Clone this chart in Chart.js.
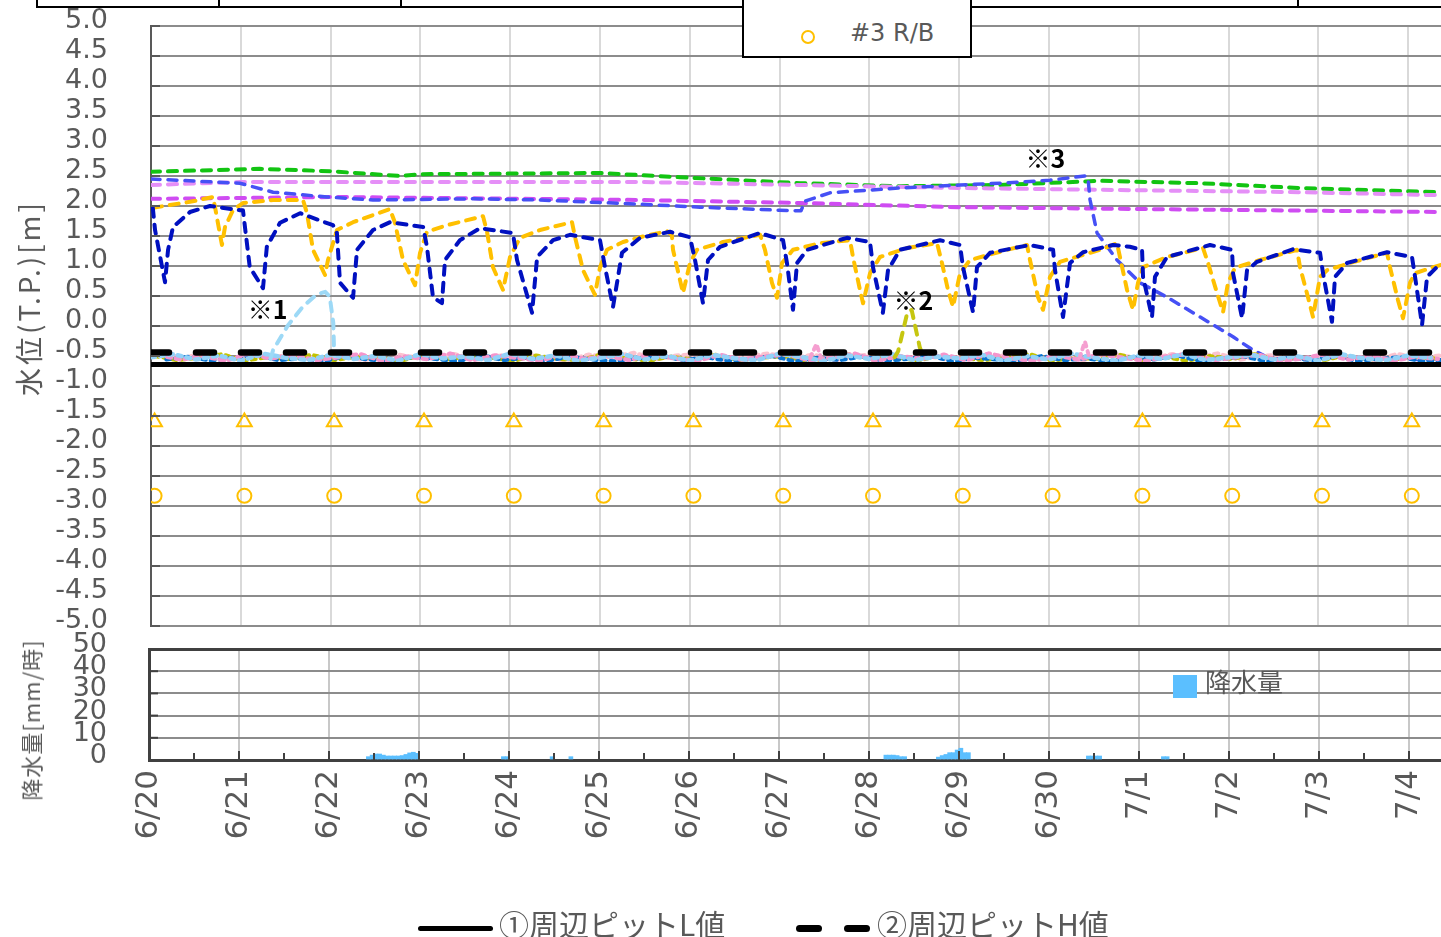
<!DOCTYPE html>
<html lang="ja">
<head>
<meta charset="utf-8">
<title>水位・降水量</title>
<script src="https://cdn.jsdelivr.net/npm/chart.js@4.4.1/dist/chart.umd.min.js"></script>
<style>
  html, body { margin: 0; padding: 0; background: #ffffff; }
  body { position: relative; width: 1441px; height: 937px; overflow: hidden; }
  canvas { position: absolute; left: 0; }
  #levelCanvas { top: -40px; }
  #rainCanvas { top: 589px; }
  .rule { position: absolute; background: #000; }
  .txt { position: absolute; white-space: nowrap; color: #595959; }
  .jp { font-family: "Noto Sans CJK JP", sans-serif; }
  .vert { transform: translate(-50%, -50%) rotate(-90deg); }
</style>
</head>
<body>
  <canvas id="levelCanvas" width="1580" height="726"></canvas>
  <canvas id="rainCanvas" width="1580" height="348"></canvas>

  <!-- header table edge and legend box -->
  <div class="rule" style="left:37px; top:6px; width:1404px; height:2px;"></div>
  <div class="rule" style="left:36px; top:0; width:2px; height:8px;"></div>
  <div class="rule" style="left:218px; top:0; width:2px; height:8px;"></div>
  <div class="rule" style="left:400px; top:0; width:2px; height:8px;"></div>
  <div class="rule" style="left:1297px; top:0; width:2px; height:8px;"></div>
  <div style="position:absolute; left:742px; top:-3px; width:226px; height:57px; border:2px solid #000; background:#fff;"></div>
  <div style="position:absolute; left:801px; top:30px; width:10px; height:10px; border:2px solid #ffc000; border-radius:50%;"></div>
  <div class="txt" style="left:850px; top:18px; font:24px 'DejaVu Sans'; line-height:30px;">#3 R/B</div>

  <!-- axis titles -->
  <div class="txt jp vert" style="left:28px; top:298px; font-size:28px; letter-spacing:3px;">水位(T.P.)[m]</div>
  <div class="txt jp vert" style="left:30px; top:720px; font-size:22px; letter-spacing:1px;">降水量[mm/時]</div>

  <!-- rainfall legend -->
  <div style="position:absolute; left:1173px; top:675px; width:24px; height:23px; background:#5bbfff;"></div>
  <div class="txt jp" style="left:1205px; top:668px; font-size:26px; line-height:26px;">降水量</div>

  <!-- pit level legend -->
  <div style="position:absolute; left:418px; top:926px; width:75px; height:5px; background:#000; border-radius:3px;"></div>
  <div class="txt jp" style="left:499px; top:908px; font-size:30px; line-height:30px;">①周辺ピットL値</div>
  <div style="position:absolute; left:796px; top:925px; width:26px; height:7px; background:#000; border-radius:4px;"></div>
  <div style="position:absolute; left:844px; top:925px; width:26px; height:7px; background:#000; border-radius:4px;"></div>
  <div class="txt jp" style="left:877px; top:908px; font-size:30px; line-height:30px;">②周辺ピットH値</div>

<script>
// Time axis: days elapsed since 6/20 00:00
const dateLabels = ['6/20','6/21','6/22','6/23','6/24','6/25','6/26','6/27','6/28','6/29','6/30','7/1','7/2','7/3','7/4'];

// Pit reference levels [m]
const pitLowLevel = -0.64;   // ① L
const pitHighLevel = -0.44;  // ② H
const levelDays = [0, 14.4];

// Daily markers
const markerDays = [0.04,1.04,2.04,3.04,4.04,5.04,6.04,7.04,8.04,9.04,10.04,11.04,12.04,13.04,14.04];
const triangleLevels = [-1.6,-1.6,-1.6,-1.6,-1.6,-1.6,-1.6,-1.6,-1.6,-1.6,-1.6,-1.6,-1.6,-1.6,-1.6];
const circleLevels = [-2.83,-2.83,-2.83,-2.83,-2.83,-2.83,-2.83,-2.83,-2.83,-2.83,-2.83,-2.83,-2.83,-2.83,-2.83];

// Pump well A (navy)
const wellADays = [0.02,0.045,0.156,0.19,0.245,0.434,0.657,0.991,1.024,1.10,
  1.247,1.29,1.437,1.66,2.027,2.07,2.105,2.25,2.294,2.472,
  2.66,3.03,3.073,3.14,3.24,3.274,3.44,3.664,4.03,4.076,
  4.243,4.30,4.477,4.666,5.0,5.056,5.145,5.245,5.445,5.78,
  6.002,6.058,6.147,6.203,6.336,6.782,7.038,7.082,7.149,7.194,
  7.305,7.75,8.007,8.04,8.15,8.207,8.34,8.786,9.009,9.042,
  9.154,9.198,9.343,9.788,10.045,10.067,10.156,10.234,10.379,10.713,
  10.9,11.036,11.047,11.147,11.18,11.314,11.793,12.038,12.049,12.15,
  12.205,12.316,12.717,13.018,13.051,13.151,13.185,13.318,13.764,14.042,
  14.076,14.154,14.21,14.365];
const wellAVals = [1.97,1.60,0.73,1.27,1.65,1.90,2.00,1.93,1.93,0.98,
  0.63,1.32,1.72,1.88,1.68,1.55,0.72,0.47,1.27,1.60,
  1.73,1.65,1.32,0.48,0.38,1.10,1.43,1.63,1.55,1.10,
  0.22,1.15,1.43,1.52,1.43,0.98,0.32,1.22,1.47,1.57,
  1.48,1.10,0.38,1.10,1.32,1.55,1.43,1.05,0.27,1.05,
  1.27,1.47,1.40,0.98,0.22,0.93,1.27,1.43,1.35,0.98,
  0.23,0.98,1.22,1.35,1.27,0.93,0.15,1.05,1.23,1.35,
  1.32,1.27,0.82,0.15,0.82,1.15,1.35,1.27,0.88,0.13,
  0.93,1.07,1.28,1.22,0.88,0.07,0.82,1.05,1.23,1.15,
  0.82,0.02,0.82,1.05];

// Pump well B (amber)
const wellBDays = [0.022,0.434,0.69,0.713,0.79,0.824,0.913,1.024,1.359,1.693,
  1.737,1.804,1.938,1.971,2.071,2.25,2.66,2.717,2.806,2.94,
  2.996,3.073,3.296,3.697,3.742,3.808,3.92,3.998,4.109,4.332,
  4.688,4.722,4.811,4.944,5.0,5.078,5.256,5.445,5.746,5.80,
  5.813,5.924,6.002,6.08,6.37,6.782,6.837,6.915,6.971,7.027,
  7.149,7.45,7.784,7.817,7.895,7.929,8.007,8.118,8.419,8.753,
  8.808,8.875,8.931,9.009,9.12,9.532,9.755,9.788,9.878,9.933,
  10.011,10.122,10.568,10.757,10.79,10.869,10.935,10.991,11.047,11.314,
  11.715,11.771,11.871,11.938,11.993,12.071,12.35,12.762,12.795,12.884,
  12.94,13.018,13.096,13.352,13.764,13.797,13.886,13.942,14.02,14.076,
  14.365];
const wellBVals = [1.97,2.07,2.15,1.98,1.35,1.65,1.93,2.05,2.10,2.10,
  1.88,1.27,0.85,1.10,1.60,1.73,1.95,1.72,1.10,0.68,
  1.22,1.57,1.68,1.83,1.57,0.98,0.60,1.15,1.47,1.60,
  1.73,1.48,0.93,0.52,0.98,1.27,1.40,1.48,1.58,1.52,
  1.27,0.55,1.05,1.27,1.40,1.52,1.27,0.72,0.47,1.05,
  1.27,1.38,1.43,1.15,0.60,0.38,0.88,1.15,1.30,1.38,
  1.05,0.60,0.32,0.88,1.10,1.27,1.35,1.10,0.48,0.27,
  0.82,1.07,1.27,1.38,1.15,0.60,0.27,0.72,0.98,1.15,
  1.30,1.05,0.55,0.23,0.72,0.97,1.10,1.27,0.98,0.48,
  0.15,0.82,0.93,1.05,1.22,0.98,0.43,0.13,0.72,0.88,
  1.02];

// Observation well (blue, note 3)
const wellCDays = [0,0.99,1.36,1.96,2.47,3.6,4.33,5.445,6.114,7.0,
  7.238,7.283,7.56,8.34,9.009,9.454,10.011,10.401,10.434,10.457,
  10.535,10.757,11.013,11.314,11.682,12.049,12.27,12.405,12.6,12.9,
  13.2,13.5,13.8,14.1,14.365];
const wellCVals = [2.45,2.38,2.23,2.15,2.10,2.12,2.10,2.03,1.98,1.93,
  1.92,2.08,2.22,2.30,2.35,2.38,2.43,2.50,2.47,2.10,
  1.55,1.10,0.72,0.48,0.15,-0.18,-0.40,-0.50,-0.53,-0.56,
  -0.52,-0.55,-0.53,-0.56,-0.54];

// Upper observation wells
const greenDays = [0,1.21,1.99,2.77,3.0,5.0,5.89,7.23,8.34,9.45,10.57,11.68,12.8,14.365];
const greenVals = [2.57,2.62,2.58,2.50,2.53,2.55,2.48,2.38,2.33,2.35,2.42,2.38,2.30,2.23];
const violetDays = [0,0.99,5.445,7.23,9.0,10.57,12.8,14.365];
const violetVals = [2.35,2.40,2.40,2.35,2.30,2.27,2.23,2.18];
const magentaDays = [0,2.1,5.445,7.23,9.0,11.0,14.365];
const magentaVals = [2.12,2.15,2.10,2.05,1.98,1.95,1.90];

// Pit bottom wells, 6-hourly readings
const lightBlueLow = [-0.52,-0.47,-0.56,-0.49,-0.58,-0.46,-0.53,-0.57,-0.48,-0.55,
  -0.50,-0.58,-0.47,-0.54,-0.51,-0.57,-0.46,-0.55,-0.49,-0.58,
  -0.53,-0.47,-0.56,-0.50,-0.58,-0.48,-0.54,-0.57,-0.46,-0.52,
  -0.58,-0.49,-0.55,-0.47,-0.57,-0.51,-0.54,-0.48,-0.58,-0.50,
  -0.56,-0.46,-0.53,-0.58,-0.49,-0.55,-0.47,-0.57,-0.52,-0.48,
  -0.56,-0.50,-0.58,-0.47,-0.54,-0.57,-0.49,-0.53];
const pinkLow = [-0.48,-0.56,-0.50,-0.58,-0.46,-0.54,-0.49,-0.57,-0.52,-0.47,
  -0.58,-0.51,-0.55,-0.46,-0.57,-0.49,-0.53,-0.58,-0.47,-0.55,
  -0.50,-0.57,-0.46,-0.54,-0.58,-0.48,-0.56,-0.51,-0.47,-0.57,
  -0.53,-0.46,-0.58,-0.50,-0.55,-0.48,-0.57,-0.46,-0.54,-0.58,
  -0.49,-0.56,-0.47,-0.53,-0.58,-0.50,-0.46,-0.57,-0.52,-0.48,
  -0.58,-0.54,-0.47,-0.56,-0.49,-0.58,-0.51,-0.55];
const deepBlueLow = [-0.56,-0.51,-0.58,-0.53,-0.49,-0.57,-0.54,-0.59,-0.50,-0.56,
  -0.58,-0.52,-0.55,-0.59,-0.48,-0.57,-0.53,-0.58,-0.51,-0.56,
  -0.59,-0.54,-0.49,-0.57,-0.52,-0.58,-0.55,-0.50,-0.59,-0.53,
  -0.57,-0.51,-0.58,-0.55,-0.49,-0.59,-0.53,-0.56,-0.58,-0.50,
  -0.57,-0.54,-0.59,-0.52,-0.56,-0.49,-0.58,-0.55,-0.51,-0.59,
  -0.53,-0.57,-0.50,-0.58,-0.55,-0.52,-0.59,-0.56];
const oliveLow = [-0.50,-0.57,-0.53,-0.47,-0.58,-0.52,-0.55,-0.48,-0.57,-0.51,
  -0.54,-0.58,-0.47,-0.56,-0.50,-0.53,-0.58,-0.49,-0.55,-0.57,
  -0.46,-0.54,-0.58,-0.51,-0.56,-0.48,-0.57,-0.53,-0.50,-0.58,
  -0.55,-0.47,-0.56,-0.52,-0.58,-0.49,-0.54,-0.57,-0.51,-0.47,
  -0.58,-0.53,-0.55,-0.48,-0.57,-0.52,-0.58,-0.50,-0.55,-0.47,
  -0.56,-0.53,-0.58,-0.49,-0.55,-0.57,-0.51,-0.54];
const paleLow = [-0.47,-0.53,-0.45,-0.56,-0.49,-0.52,-0.46,-0.55,-0.48,-0.57,
  -0.45,-0.51,-0.54,-0.47,-0.56,-0.50,-0.46,-0.53,-0.57,-0.48,
  -0.52,-0.45,-0.55,-0.49,-0.47,-0.56,-0.51,-0.46,-0.54,-0.48,
  -0.57,-0.50,-0.45,-0.53,-0.49,-0.56,-0.47,-0.52,-0.46,-0.55,
  -0.49,-0.57,-0.45,-0.51,-0.54,-0.47,-0.53,-0.46,-0.56,-0.50,
  -0.48,-0.55,-0.45,-0.52,-0.57,-0.47,-0.53,-0.49];
// each well logged on its own 6-hour cycle, offset within the hour grid
const lowDays = lightBlueLow.map((_, i) => i * 0.25);
const lowDaysB = lowDays.map(d => d + 0.08);
const lowDaysC = lowDays.map(d => d + 0.17);
const lowDaysD = lowDays.map(d => d + 0.04);
const lowDaysE = lowDays.map(d => d + 0.125);

// Short rises in the pit wells (notes 1 and 2, and two brief blips)
const rise1Days = [1.33,1.36,1.52,1.69,1.84,1.94,1.99,2.03,2.04];
const rise1Vals = [-0.55,-0.40,0.00,0.32,0.52,0.57,0.49,0.05,-0.50];
const rise2Days = [8.28,8.32,8.42,8.47,8.56,8.60];
const rise2Vals = [-0.52,-0.42,0.21,0.27,-0.35,-0.52];
const blipADays = [7.34,7.41,7.46];
const blipAVals = [-0.53,-0.30,-0.53];
const blipBDays = [10.34,10.40,10.45];
const blipBVals = [-0.53,-0.26,-0.53];

// Notes
const noteDays = [1.30, 8.49, 9.96];
const noteLevels = [0.27, 0.43, 2.80];
const noteTexts = ['※1', '※2', '※3'];

// Hourly rainfall [mm/h], hour index counted from 6/20 00:00
const rainHours = [58,59,60,61,62,63,64,65,66,67,68,69,70,71, 94,95, 107, 112,
  196,197,198,199,200,201, 210,211,212,213,214,215,216,217,218, 250,251,252,253, 270,271];
const rainMm = [1.5,2.2,2.7,2.7,2.2,1.8,1.8,1.8,1.8,2.0,2.5,3.2,3.5,3.0, 1.5,1.5, 1.5, 1.5,
  2.2,2.2,2.2,2.0,1.5,1.5, 1.3,2.0,2.5,3.3,3.3,4.5,5.3,3.3,3.3, 1.8,1.8,1.8,1.8, 1.5,1.5];

Chart.defaults.font.family = '"DejaVu Sans", sans-serif';
Chart.defaults.color = '#595959';

function series(days, vals, color, width, dash, order) {
  return {
    data: days.map((d, i) => ({ x: d, y: vals[i] })),
    borderColor: color, backgroundColor: color,
    borderWidth: width, borderDash: dash,
    borderCapStyle: 'round', borderJoinStyle: 'round',
    pointRadius: 0, tension: 0, fill: false, order
  };
}
function markers(days, vals, style, radius, order) {
  return {
    data: days.map((d, i) => ({ x: d, y: vals[i] })),
    showLine: false, pointStyle: style, pointRadius: radius,
    pointBorderColor: '#ffc000', pointBorderWidth: 2,
    pointBackgroundColor: 'rgba(0,0,0,0)', order
  };
}

// Short inward tick marks on the axes
const innerTicks = {
  id: 'innerTicks',
  afterDraw(chart, args, opts) {
    const { ctx, chartArea, scales: { x, y } } = chart;
    ctx.save();
    ctx.strokeStyle = opts.color;
    ctx.lineWidth = 2;
    y.ticks.forEach(t => {
      const py = y.getPixelForValue(t.value);
      ctx.beginPath(); ctx.moveTo(chartArea.left, py); ctx.lineTo(chartArea.left + 9, py); ctx.stroke();
    });
    if (opts.halfDays) {
      for (let d = 0; d <= x.max; d += 0.5) {
        const px = x.getPixelForValue(d);
        const len = d % 1 === 0 ? 9 : 7;
        ctx.beginPath(); ctx.moveTo(px, chartArea.bottom); ctx.lineTo(px, chartArea.bottom - len); ctx.stroke();
      }
    }
    ctx.restore();
  }
};

// Note labels placed in data coordinates
const notes = {
  id: 'notes',
  afterDatasetsDraw(chart) {
    const { ctx, scales: { x, y } } = chart;
    ctx.save();
    ctx.font = 'bold 25px "Noto Sans CJK JP"';
    ctx.fillStyle = '#000';
    ctx.textAlign = 'center';
    ctx.textBaseline = 'middle';
    noteTexts.forEach((t, i) => ctx.fillText(t, x.getPixelForValue(noteDays[i]), y.getPixelForValue(noteLevels[i])));
    ctx.restore();
  }
};

const fine = [9, 8];
const noise = [4, 5];

new Chart(document.getElementById('levelCanvas'), {
  type: 'line',
  data: {
    datasets: [
      series(levelDays, [pitHighLevel, pitHighLevel], '#000000', 6.5, [18, 27], 1),
      series(levelDays, [pitLowLevel, pitLowLevel], '#000000', 5, [], 2),
      markers(markerDays, triangleLevels, 'triangle', 8.5, 3),
      markers(markerDays, circleLevels, 'circle', 7, 3),
      series(rise1Days, rise1Vals, '#9dd9f6', 4, fine, 4),
      series(rise2Days, rise2Vals, '#c6c610', 4, fine, 4),
      series(blipADays, blipAVals, '#f59fd0', 4, noise, 4),
      series(blipBDays, blipBVals, '#f59fd0', 4, noise, 4),
      series(lowDays, lightBlueLow, '#92d2f8', 4.5, noise, 5),
      series(lowDaysB, pinkLow, '#f595cc', 4.5, noise, 6),
      series(lowDaysC, deepBlueLow, '#0a74d0', 4, noise, 7),
      series(lowDaysD, oliveLow, '#c2c200', 4, noise, 8),
      series(lowDaysE, paleLow, '#fbc3cf', 4.5, noise, 9),
      series(wellADays, wellAVals, '#0010c0', 4, fine, 10),
      series(wellBDays, wellBVals, '#ffc000', 4, fine, 11),
      series(wellCDays, wellCVals, '#4650f5', 3.5, fine, 12),
      series(magentaDays, magentaVals, '#cf4cf2', 4, fine, 13),
      series(violetDays, violetVals, '#e58ff7', 4, fine, 14),
      series(greenDays, greenVals, '#12c412', 4, fine, 15)
    ]
  },
  options: {
    responsive: false, animation: false, devicePixelRatio: 1,
    layout: { padding: { top: 66, bottom: 60, left: 0, right: 80 } },
    plugins: { legend: { display: false }, tooltip: { enabled: false }, innerTicks: { color: '#595959', halfDays: false } },
    scales: {
      x: {
        type: 'linear', min: 0, max: 15.022,
        ticks: { display: false, stepSize: 1, autoSkip: false },
        grid: { color: c => (Number.isInteger(c.tick.value) && c.tick.value > 0) ? '#d9d9d9' : 'rgba(0,0,0,0)', lineWidth: 2, drawTicks: false },
        border: { display: false },
        afterFit: s => { s.height = 0; }
      },
      y: {
        min: -5, max: 5,
        ticks: { stepSize: 0.5, autoSkip: false, padding: 43, labelOffset: -5, color: '#595959',
          font: { size: 27 }, callback: v => (Math.abs(v) < 1e-9 ? 0 : v).toFixed(1) },
        grid: { color: '#8c8c8c', lineWidth: 2, drawTicks: false },
        border: { color: '#595959', width: 2 },
        afterFit: s => { s.width = 151; }
      }
    }
  },
  plugins: [innerTicks, notes]
});

new Chart(document.getElementById('rainCanvas'), {
  type: 'bar',
  data: {
    datasets: [{
      label: '降水量',
      data: rainHours.map((h, i) => ({ x: (h + 0.5) / 24, y: rainMm[i] })),
      backgroundColor: '#5bbfff', borderWidth: 0, barThickness: 4
    }]
  },
  options: {
    responsive: false, animation: false, devicePixelRatio: 1,
    layout: { padding: { top: 60, bottom: 0, left: 0, right: 80 } },
    plugins: { legend: { display: false }, tooltip: { enabled: false }, innerTicks: { color: '#404040', halfDays: true } },
    scales: {
      x: {
        type: 'linear', min: 0, max: 15.011, offset: false,
        ticks: { stepSize: 1, autoSkip: false, minRotation: 90, maxRotation: 90, padding: 10,
          color: '#595959', font: { size: 31 },
          callback: v => (Number.isInteger(v) && v < dateLabels.length) ? dateLabels[v] : '' },
        grid: { offset: false, color: c => (Number.isInteger(c.tick.value) && c.tick.value > 0) ? '#c8c8c8' : 'rgba(0,0,0,0)', lineWidth: 2, drawTicks: false },
        border: { color: '#404040', width: 3 },
        afterFit: s => { s.height = 177; }
      },
      y: {
        min: 0, max: 50,
        ticks: { stepSize: 10, autoSkip: false, padding: 42, labelOffset: -4, color: '#595959', font: { size: 27 } },
        grid: { color: c => c.tick.value === 50 ? '#404040' : (c.tick.value === 0 ? 'rgba(0,0,0,0)' : '#8c8c8c'),
                lineWidth: c => c.tick.value === 50 ? 3 : 2, drawTicks: false },
        border: { color: '#404040', width: 3 },
        afterFit: s => { s.width = 149; }
      }
    }
  },
  plugins: [innerTicks]
});
</script>
</body>
</html>
